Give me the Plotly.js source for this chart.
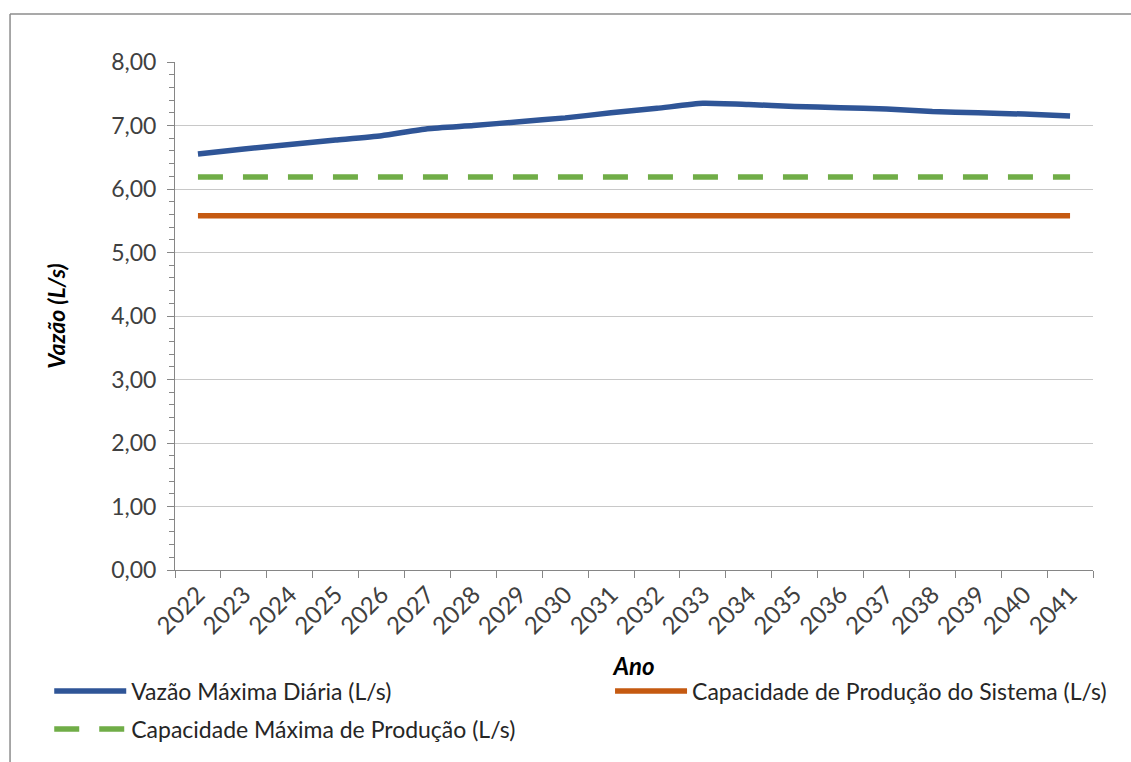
<!DOCTYPE html>
<html>
<head>
<meta charset="utf-8">
<script src="https://cdn.plot.ly/plotly-3.0.1.min.js"></script>
<style>
html,body{margin:0;padding:0;background:#fff;}
#chart{width:1131px;height:762px;}
</style>
</head>
<body>
<div id="chart"></div>
<script>
const anos = ["2022","2023","2024","2025","2026","2027","2028","2029","2030","2031","2032","2033","2034","2035","2036","2037","2038","2039","2040","2041"];
const vazaoMaxDiaria = [6.55,6.63,6.70,6.77,6.84,6.95,7.00,7.06,7.12,7.20,7.27,7.35,7.33,7.30,7.28,7.26,7.22,7.20,7.18,7.15];
const capProducaoSistema = [5.58,5.58,5.58,5.58,5.58,5.58,5.58,5.58,5.58,5.58,5.58,5.58,5.58,5.58,5.58,5.58,5.58,5.58,5.58,5.58];
const capMaxProducao = [6.19,6.19,6.19,6.19,6.19,6.19,6.19,6.19,6.19,6.19,6.19,6.19,6.19,6.19,6.19,6.19,6.19,6.19,6.19,6.19];
const nomes = ["Vazão Máxima Diária (L/s)","Capacidade de Produção do Sistema (L/s)","Capacidade Máxima de Produção (L/s)"];

const FONT = "Lato, 'Open Sans', sans-serif";

const traces = [
  {x: anos, y: vazaoMaxDiaria, name: nomes[0], type: 'scatter', mode: 'lines', legend: 'legend',
   line: {color: '#2F5597', width: 5.5, shape: 'spline', smoothing: 0.5}},
  {x: anos, y: capProducaoSistema, name: nomes[1], type: 'scatter', mode: 'lines', legend: 'legend2',
   line: {color: '#C55A11', width: 5.5}},
  {x: anos, y: capMaxProducao, name: nomes[2], type: 'scatter', mode: 'lines', legend: 'legend3',
   line: {color: '#70AD47', width: 5.5, dash: '25px,20px'}}
];

const legFont = {family: FONT, size: 23, color: '#262626'};
function leg(x, y) {
  return {orientation: 'h', x: x, xanchor: 'left', y: y, yanchor: 'middle',
          font: legFont, itemwidth: 72, bgcolor: 'rgba(0,0,0,0)'};
}

const layout = {
  width: 1131, height: 762,
  paper_bgcolor: '#ffffff', plot_bgcolor: '#ffffff',
  margin: {l: 175, r: 38, t: 62, b: 192},
  font: {family: FONT, color: '#404040', size: 18},
  showlegend: true,
  legend: leg(-0.137, -0.2382),
  legend2: leg(0.4739, -0.2382),
  legend3: leg(-0.137, -0.3130),
  xaxis: {
    type: 'category', range: [-0.5, 19.5],
    tickson: 'boundaries', ticks: 'outside', ticklen: 7, tickcolor: '#868686', tickwidth: 1,
    showline: true, linecolor: '#868686', linewidth: 1,
    showgrid: false, zeroline: false,
    tickangle: -45, tickfont: {family: FONT, size: 24, color: '#404040'},
    title: {text: '<b><i>Ano</i></b>', font: {family: FONT, size: 24, color: '#000'}, standoff: 20},
    automargin: false, fixedrange: true
  },
  yaxis: {
    range: [0, 8], dtick: 1, tick0: 0, tickformat: '.2f',
    ticks: 'outside', ticklen: 7, tickcolor: '#868686', tickwidth: 1,
    ticklabelstandoff: 6,
    minor: {dtick: 0.2, ticks: 'outside', ticklen: 5, tickcolor: '#868686', showgrid: false},
    showline: true, linecolor: '#868686', linewidth: 1,
    showgrid: true, gridcolor: '#C8C8C8', gridwidth: 1, zeroline: false,
    tickfont: {family: FONT, size: 23, color: '#404040'},
    title: {text: '<b><i>Vazão (L/s)</i></b>', font: {family: FONT, size: 23, color: '#000'}, standoff: 39},
    automargin: false, fixedrange: true
  },
  separators: ',.',
  shapes: [
    {type: 'line', xref: 'paper', yref: 'paper', x0: -0.1797, x1: 1.2, y0: 1.0945, y1: 1.0945, line: {color: '#8C8C8C', width: 1.5}},
    {type: 'line', xref: 'paper', yref: 'paper', x0: -0.1797, x1: -0.1797, y0: 1.0945, y1: -0.4, line: {color: '#8C8C8C', width: 1.5}}
  ]
};

Plotly.newPlot('chart', traces, layout, {displayModeBar: false, staticPlot: true});
</script>
</body>
</html>
